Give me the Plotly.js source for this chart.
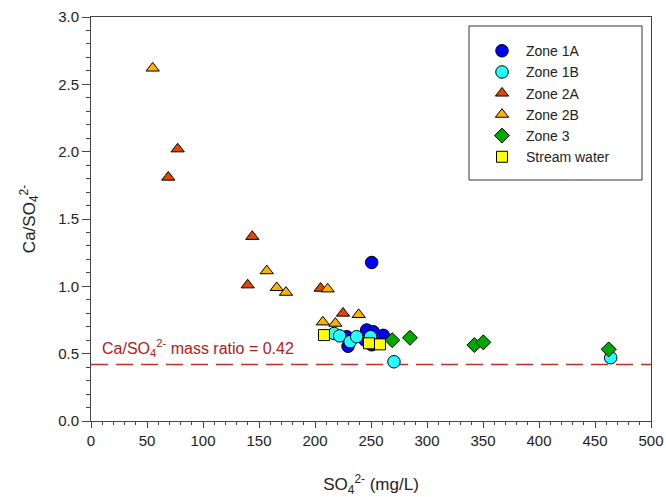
<!DOCTYPE html>
<html>
<head>
<meta charset="utf-8">
<script src="https://cdn.plot.ly/plotly-3.0.1.min.js"></script>
<style>
html,body{margin:0;padding:0;background:#fff;}
#chart{width:666px;height:497px;}
</style>
</head>
<body>
<div id="chart"></div>
<script>
// ---- data (SO4 mg/L, Ca/SO4 ratio) ----
var zone1A_x = [250.6, 229.5, 228.3, 244.6, 246.2, 252.0, 261.0, 250.6];
var zone1A_y = [1.177, 0.555, 0.626, 0.601, 0.676, 0.663, 0.636, 0.566];

var zone1B_x = [217.0, 222.0, 231.3, 237.2, 249.5, 270.5, 464.0];
var zone1B_y = [0.650, 0.632, 0.589, 0.626, 0.626, 0.440, 0.470];

var zone2A_x = [77.4, 69.0, 144.0, 139.9, 205.0, 225.0];
var zone2A_y = [2.02, 1.81, 1.37, 1.01, 0.985, 0.80];

var zone2B_x = [55.1, 156.9, 165.8, 174.1, 211.3, 239.0, 207.0, 218.2];
var zone2B_y = [2.62, 1.115, 0.99, 0.955, 0.98, 0.79, 0.735, 0.725];

var zone3_x = [269.0, 284.8, 342.3, 350.3, 462.2];
var zone3_y = [0.600, 0.618, 0.564, 0.584, 0.532];

var stream_x = [208.0, 248.2, 258.0];
var stream_y = [0.638, 0.577, 0.569];

var massRatio = 0.42;
var xTickVals = [0, 50, 100, 150, 200, 250, 300, 350, 400, 450, 500];
var yTickVals = [0.0, 0.5, 1.0, 1.5, 2.0, 2.5, 3.0];
var yTickText = ["0.0", "0.5", "1.0", "1.5", "2.0", "2.5", "3.0"];

var FONT = "Liberation Sans, Arial, sans-serif";
var outline = {color: "#000000", width: 1};

function tr(name, xs, ys, symbol, size, color) {
  return {
    type: "scatter", mode: "markers", name: name, x: xs, y: ys,
    marker: {symbol: symbol, size: size, color: color, line: outline}
  };
}

var data = [
  tr("Zone 1A", zone1A_x, zone1A_y, "circle", 12.5, "#0000ff"),
  tr("Zone 1B", zone1B_x, zone1B_y, "circle", 12.5, "#22ffff"),
  tr("Zone 2A", zone2A_x, zone2A_y, "triangle-up", 11.5, "#e04800"),
  tr("Zone 2B", zone2B_x, zone2B_y, "triangle-up", 11.5, "#ffb000"),
  tr("Zone 3", zone3_x, zone3_y, "diamond", 11.5, "#00a800"),
  tr("Stream water", stream_x, stream_y, "square", 11, "#ffff00")
];

var axisCommon = {
  showgrid: false, zeroline: false, showline: true, linecolor: "#444", linewidth: 1,
  mirror: true, ticks: "outside", tickcolor: "#444",
  tickfont: {family: FONT, size: 15, color: "#222"}
};

var layout = {
  width: 666, height: 497,
  margin: {l: 91, r: 15, t: 17, b: 76},
  paper_bgcolor: "#ffffff", plot_bgcolor: "#ffffff",
  font: {family: FONT, color: "#222"},
  showlegend: true,
  legend: {
    x: (478 - 91) / 560, y: 0.955, xanchor: "left", yanchor: "top",
    bgcolor: "rgba(0,0,0,0)", borderwidth: 0, itemwidth: 38,
    font: {family: FONT, size: 14, color: "#222"},
    tracegroupgap: 0
  },
  xaxis: Object.assign({}, axisCommon, {
    range: [0, 500], tickvals: xTickVals, ticklen: 6,
    minor: {dtick: 10, ticklen: 3, ticks: "outside", tickcolor: "#444"},
    title: {text: "SO<sub>4</sub><sup>2-</sup> (mg/L)", font: {family: FONT, size: 17, color: "#222"}, standoff: 34}
  }),
  yaxis: Object.assign({}, axisCommon, {
    range: [0, 3.0], tickvals: yTickVals, ticktext: yTickText, ticklen: 8,
    minor: {dtick: 0.1, ticklen: 4, ticks: "outside", tickcolor: "#444"},
    title: {text: "Ca/SO<sub>4</sub><sup>2-</sup>", font: {family: FONT, size: 17, color: "#222"}, standoff: 18}
  }),
  shapes: [
    {type: "line", xref: "x", yref: "y", x0: 0, x1: 500, y0: massRatio, y1: massRatio,
     line: {color: "#c0302a", width: 1.5, dash: "17px,8px"}, layer: "below"},
    {type: "rect", xref: "paper", yref: "paper",
     x0: (469 - 91) / 560, x1: (642 - 91) / 560,
     y0: (421 - 180) / 404, y1: (421 - 26) / 404,
     line: {color: "#333", width: 1}, fillcolor: "rgba(0,0,0,0)"}
  ],
  annotations: [
    {xref: "x", yref: "y", x: 8, y: 0.545, xanchor: "left", yanchor: "middle", showarrow: false,
     text: "Ca/SO<sub>4</sub><sup>2-</sup> mass ratio = " + massRatio.toFixed(2),
     font: {family: FONT, size: 16, color: "#b02020"}}
  ]
};

Plotly.newPlot("chart", data, layout, {displayModeBar: false, staticPlot: true});
</script>
</body>
</html>
